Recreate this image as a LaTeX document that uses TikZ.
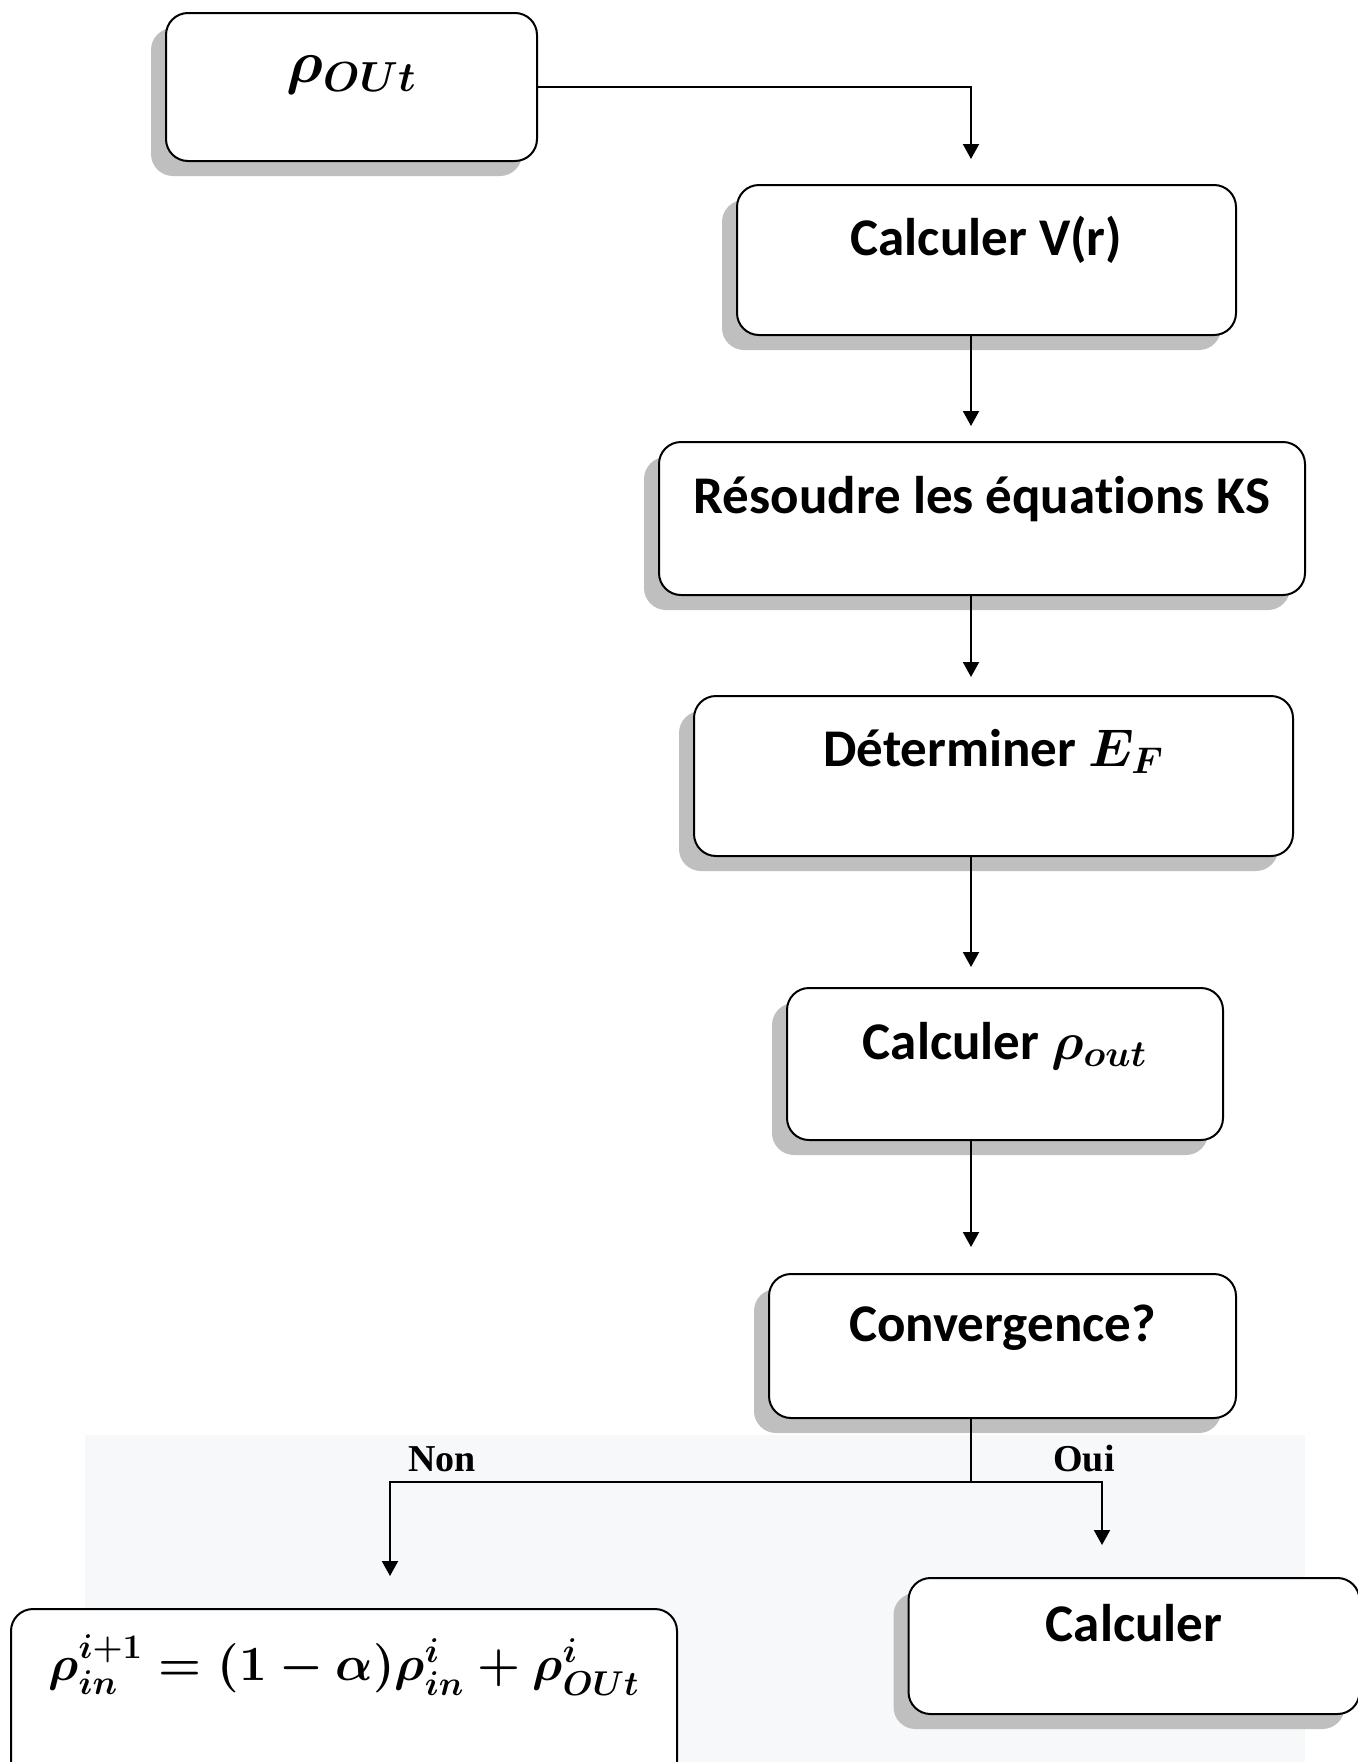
\RequirePackage{fix-cm}
\documentclass[tikz,border=0pt]{standalone}
\usepackage{amsmath}
\usepackage{bm}
\usepackage{fontspec}
\setmainfont{Carlito}[Ligatures=CommonOff]
\newfontfamily\labelfont{Liberation Serif}
\usepackage{tikz}
\usetikzlibrary{positioning,calc,shadows,arrows.meta}
\definecolor{shadowgray}{RGB}{191,191,191}
\definecolor{panelgray}{RGB}{247,248,250}

\begin{document}
\begin{tikzpicture}[
    x=0.5pt, y=-0.5pt,
    stepbox/.style={rectangle, draw=black, line width=1pt, fill=white, rounded corners=11pt, inner sep=0pt, text height=0pt, text depth=5pt, font=\fontsize{26.5}{32}\selectfont\bfseries\boldmath},
    shadowed/.style={drop shadow={shadow xshift=-7.5pt, shadow yshift=-7.5pt, fill=shadowgray, opacity=1}},
    branch/.style={font=\fontsize{19}{23}\selectfont\labelfont\bfseries},
    link/.style={line width=1pt},
    arrow/.style={link, -{Triangle[length=7.5pt,width=8pt]}, shorten >=10pt}
]
    \useasboundingbox (0,0) rectangle (1358,1762);
    \clip (0,0) rectangle (1358,1762);
    \fill[panelgray] (85,1435) rectangle (1305,1762);

    \node[stepbox, shadowed, minimum width=185.5pt, minimum height=74pt, font=\fontsize{30}{36}\selectfont\bfseries\boldmath] (rhoout) at (351.5,87) {$\rho_{OUt}$};
    \node[stepbox, shadowed, minimum width=249.5pt, minimum height=75pt] (potential) at (986.5,260) {Calculer V(r)};
    \node[stepbox, shadowed, minimum width=323pt, minimum height=76.5pt] (kohnsham) at (982,518.5) {Résoudre les équations KS};
    \node[stepbox, shadowed, minimum width=299.5pt, minimum height=80pt, text depth=10pt] (fermi) at (993.5,776) {Déterminer $E_F$};
    \node[stepbox, shadowed, minimum width=218pt, minimum height=76pt] (density) at (1005,1064) {Calculer $\rho_{out}$};
    \node[stepbox, shadowed, minimum width=233.5pt, minimum height=72pt] (converge) at (1002.5,1346) {Convergence?};
    \node[stepbox, minimum width=333pt, minimum height=95.5pt, text depth=24.5pt, font=\fontsize{24.6}{30}\selectfont\bfseries\boldmath] (mixing) at (344,1704.5) {$\rho_{in}^{i+1} = (1-\alpha)\rho_{in}^{i} + \rho_{OUt}^{i}$};
    \node[stepbox, shadowed, minimum width=225.5pt, minimum height=68pt] (final) at (1134,1646) {Calculer};

    \node[branch] (non) at (442,1459) {Non};
    \node[branch] (oui) at (1084,1459) {Oui};

    \coordinate (spine) at (971,0);
    \coordinate (split) at (971,1482);
    \coordinate (nonend) at (390,1482);
    \coordinate (ouiend) at (1102,1482);

    \draw[arrow, shorten >=12.5pt] (rhoout.east) -| (potential.north -| spine);
    \draw[arrow, shorten >=7.5pt] (potential.south -| spine) -- (kohnsham.north -| spine);
    \draw[arrow, shorten >=9pt] (kohnsham.south -| spine) -- (fermi.north -| spine);
    \draw[arrow] (fermi.south -| spine) -- (density.north -| spine);
    \draw[arrow, shorten >=13pt] (density.south -| spine) -- (converge.north -| spine);
    \draw[link] (converge.south -| spine) -- (split);
    \draw[arrow, shorten >=16pt] (split) -- (nonend) -- (nonend |- mixing.north);
    \draw[arrow, shorten >=16pt] (split) -- (ouiend) -- (ouiend |- final.north);
\end{tikzpicture}
\end{document}
